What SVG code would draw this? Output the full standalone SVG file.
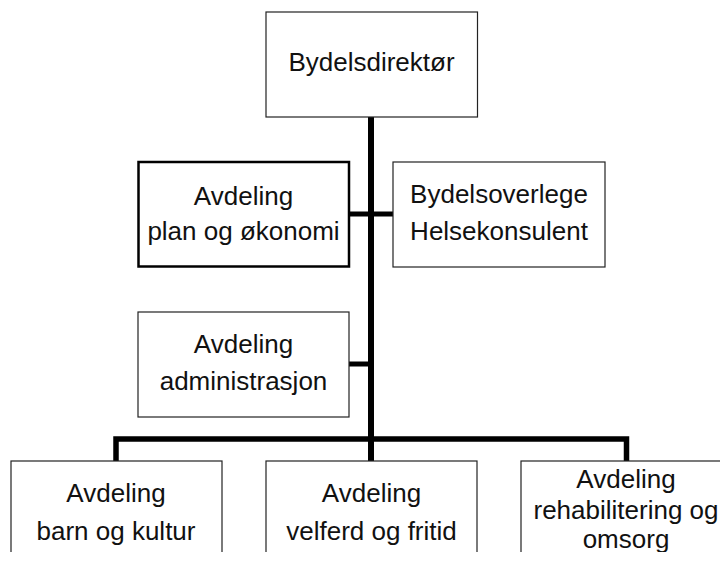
<svg xmlns="http://www.w3.org/2000/svg" width="720" height="561" viewBox="0 0 720 561">
<style>
.box{fill:#fff;stroke:#222;stroke-width:1.2}
.bold{fill:#fff;stroke:#000;stroke-width:2.5}
.lbl{font-family:"Liberation Sans",Arial,sans-serif;font-size:26px;fill:#111;text-anchor:middle}
.con{fill:none;stroke:#000;stroke-linecap:butt;stroke-linejoin:miter}
</style>
<defs>
<clipPath id="page"><rect x="0" y="0" width="720" height="552"/></clipPath>
</defs>
<rect width="720" height="561" fill="#fff"/>
<g clip-path="url(#page)">
<g id="connectors">
<line class="con" x1="371" y1="117" x2="371" y2="461" stroke-width="6"/>
<line class="con" x1="349" y1="214" x2="393" y2="214" stroke-width="5"/>
<line class="con" x1="349" y1="364" x2="371" y2="364" stroke-width="5"/>
<path class="con" d="M116 461 V439 H626.5 V461" stroke-width="5.5"/>
</g>
<g id="n-bydelsdirektor">
<rect class="box" x="266" y="12" width="211.5" height="105"/>
<text class="lbl" x="371.5" y="71">Bydelsdirektør</text>
</g>
<g id="n-plan">
<rect class="bold" x="138.5" y="162" width="210.5" height="104.5"/>
<text class="lbl" x="243.5" y="205">Avdeling</text>
<text class="lbl" x="243.5" y="240">plan og økonomi</text>
</g>
<g id="n-overlege">
<rect class="box" x="393" y="162" width="212" height="105"/>
<text class="lbl" x="499" y="203">Bydelsoverlege</text>
<text class="lbl" x="499" y="240">Helsekonsulent</text>
</g>
<g id="n-admin">
<rect class="box" x="138" y="312" width="211" height="105"/>
<text class="lbl" x="243.5" y="353">Avdeling</text>
<text class="lbl" x="243.5" y="390">administrasjon</text>
</g>
<g id="n-barn">
<rect class="box" x="11" y="461" width="211" height="110"/>
<text class="lbl" x="116" y="502">Avdeling</text>
<text class="lbl" x="116" y="540">barn og kultur</text>
</g>
<g id="n-velferd">
<rect class="box" x="266" y="461" width="211" height="110"/>
<text class="lbl" x="371.5" y="502">Avdeling</text>
<text class="lbl" x="371.5" y="540">velferd og fritid</text>
</g>
<g id="n-rehab">
<rect class="box" x="521" y="461" width="211" height="110"/>
<text class="lbl" x="626" y="488">Avdeling</text>
<text class="lbl" x="626" y="519">rehabilitering og</text>
<text class="lbl" x="626" y="548">omsorg</text>
</g>
</g>
</svg>
